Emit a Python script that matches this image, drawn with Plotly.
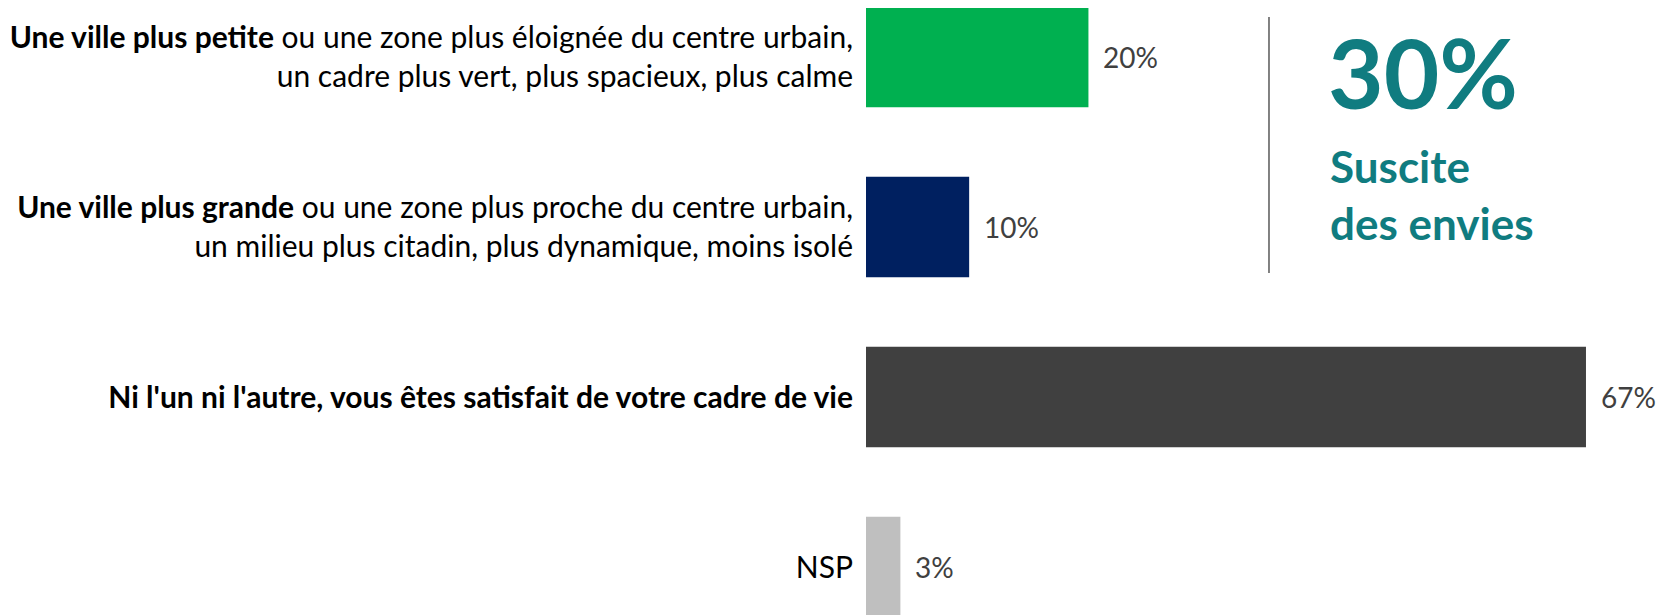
import plotly.graph_objects as go

# Données
categories = [
    "<b>Une ville plus petite</b> ou une zone plus éloignée du centre urbain,<br>un cadre plus vert, plus spacieux, plus calme",
    "<b>Une ville plus grande</b> ou une zone plus proche du centre urbain,<br>un milieu plus citadin, plus dynamique, moins isolé",
    "<b>Ni l'un ni l'autre, vous êtes satisfait de votre cadre de vie</b>",
    "NSP",
]
valeurs = [20.7, 9.6, 67, 3.2]
couleurs = ["#00B050", "#002060", "#404040", "#BFBFBF"]
etiquettes = ["20%", "10%", "67%", "3%"]

total_envies = "30%"
sous_titre = ["Suscite", "des envies"]

police = "Lato"
teal = "#107C80"

# la page html ajoute une marge de 8 px autour de la figure
L, H = 1656, 607


def py(y):
    # position verticale (pixels de l'écran) -> coordonnée papier
    return 1 - (y - 8) / H


figure = go.Figure(go.Bar(
    x=valeurs,
    y=categories,
    orientation="h",
    marker=dict(color=couleurs, line=dict(width=0)),
    width=0.59,
    hoverinfo="skip",
))

# étiquettes de valeur à droite des barres
for cat, val, lab in zip(categories, valeurs, etiquettes):
    figure.add_annotation(x=val, y=cat, text=lab, showarrow=False,
                          xanchor="left", yanchor="middle", xshift=13,
                          font=dict(family=police, size=28, color="#404040"))

# séparateur + encart "30%"
figure.add_shape(type="line", xref="paper", yref="paper",
                 x0=0.505, x1=0.505, y0=py(17), y1=py(273),
                 line=dict(color="#595959", width=1.5))
figure.add_annotation(xref="paper", yref="paper", x=(1326 - 866) / 798, y=py(71),
                      text="<b>" + total_envies + "</b>", showarrow=False,
                      xanchor="left", yanchor="middle",
                      font=dict(family=police, size=96, color=teal))
figure.add_annotation(xref="paper", yref="paper", x=(1328 - 866) / 798, y=py(166),
                      text="<b>" + sous_titre[0] + "</b>", showarrow=False,
                      xanchor="left", yanchor="middle",
                      font=dict(family=police, size=44, color=teal))
figure.add_annotation(xref="paper", yref="paper", x=(1328 - 866) / 798, y=py(223),
                      text="<b>" + sous_titre[1] + "</b>", showarrow=False,
                      xanchor="left", yanchor="middle",
                      font=dict(family=police, size=44, color=teal))

figure.update_layout(
    width=L, height=H,
    margin=dict(l=858, r=0, t=0, b=0),
    plot_bgcolor="white", paper_bgcolor="white",
    showlegend=False,
    xaxis=dict(range=[0, 798 / 10.746], visible=False, fixedrange=True),
    yaxis=dict(
        categoryorder="array", categoryarray=categories,
        range=[3 + 48 / 170, -49 / 170],
        showgrid=False, zeroline=False, showline=False,
        ticks="", ticklabelstandoff=12, automargin=False,
        tickfont=dict(family=police, size=30, color="black"),
        fixedrange=True,
    ),
)

figure.write_html("out.html")
